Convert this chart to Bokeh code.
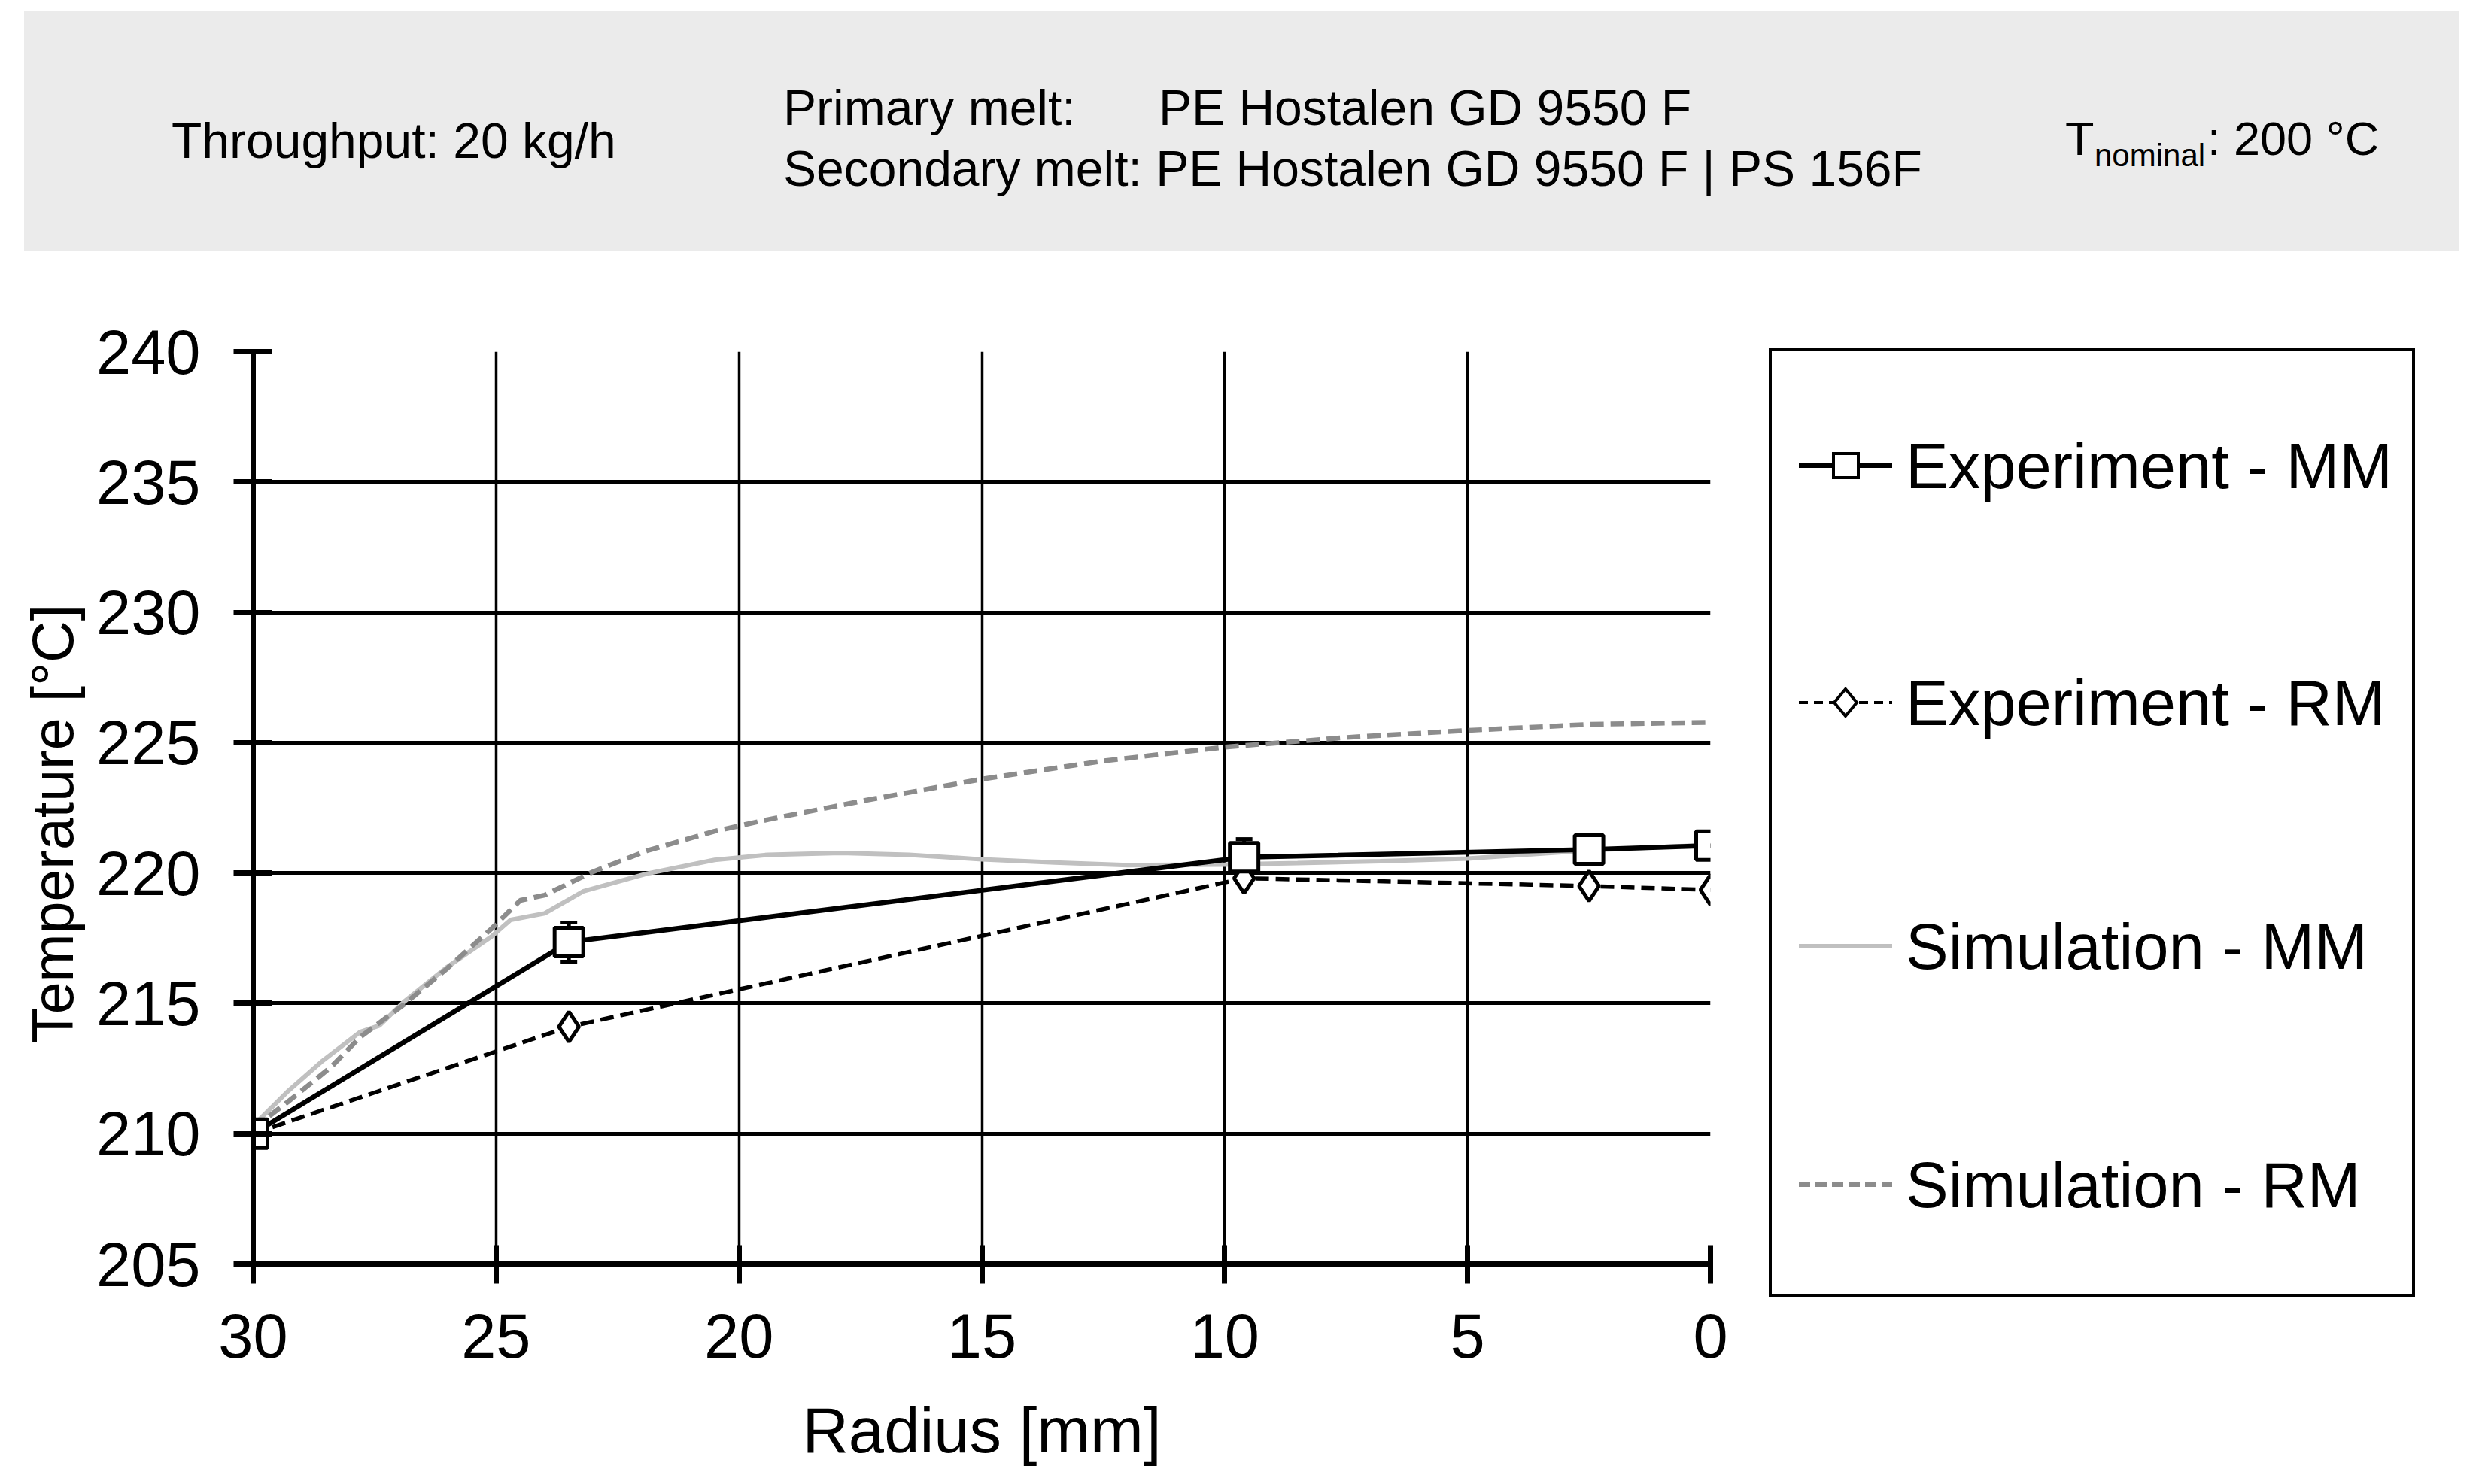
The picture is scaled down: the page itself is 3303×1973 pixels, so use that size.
from bokeh.plotting import figure
from bokeh.models import (Range1d, FixedTicker, Whisker, ColumnDataSource,
                          TeeHead, Div)
from bokeh.layouts import column, row
from bokeh.embed import file_html
from bokeh.resources import INLINE

FONT = "Liberation Sans"

# ---------------- data ----------------
x_ticks = [30, 25, 20, 15, 10, 5, 0]
y_ticks = [205, 210, 215, 220, 225, 230, 235, 240]

exp_mm_r = [30.0, 23.5, 9.6, 2.5, 0.0]
exp_mm_t = [210.0, 217.35, 220.6, 220.9, 221.05]
exp_mm_err = [0.0, 0.75, 0.7, 0.0, 0.0]

exp_rm_r = [30.0, 23.5, 9.6, 2.5, 0.0]
exp_rm_t = [210.0, 214.1, 219.8, 219.5, 219.35]

sim_mm_r = [30.0, 29.3, 28.6, 27.8, 27.4, 26.9, 26.0, 25.1, 24.7, 24.0, 23.2,
            21.9, 20.5, 19.4, 17.9, 16.5, 15.0, 13.5, 12.0, 10.0, 8.5, 6.8,
            5.0, 2.5, 0.0]
sim_mm_t = [210.3, 211.6, 212.75, 213.9, 214.15, 215.05, 216.4, 217.55, 218.2,
            218.45, 219.3, 219.97, 220.5, 220.7, 220.77, 220.7, 220.52, 220.4,
            220.3, 220.32, 220.38, 220.45, 220.55, 220.87, 221.08]

sim_rm_r = [30.0, 29.3, 28.4, 27.8, 26.9, 26.0, 25.1, 24.5, 24.0, 23.0, 21.9,
            20.5, 19.4, 17.5, 15.0, 12.5, 10.0, 7.5, 5.0, 2.5, 0.0]
sim_rm_t = [210.2, 211.2, 212.55, 213.7, 214.95, 216.35, 217.85, 218.95,
            219.15, 220.05, 220.85, 221.6, 222.05, 222.75, 223.6, 224.3,
            224.83, 225.2, 225.47, 225.7, 225.78]

series_labels = ["Experiment - MM", "Experiment - RM", "Simulation - MM",
                 "Simulation - RM"]

header_left = "Throughput: 20 kg/h"
header_mid1a = "Primary melt:"
header_mid1b = "PE Hostalen GD 9550 F"
header_mid2 = "Secondary melt: PE Hostalen GD 9550 F | PS 156F"
header_t = "T"
header_sub = "nominal"
header_tval = ": 200 °C"

x_label = "Radius [mm]"
y_label = "Temperature [°C]"

# series styles
C_EXP = "black"
C_SIM_MM = "#c0c0c0"
C_SIM_RM = "#8c8c8c"

# ---------------- header (HTML text) ----------------
HW, HH = 3287, 372

def span(x, baseline, s, size=66):
    top = baseline - 0.8465 * size
    return (f'<span style="position:absolute;left:{x}px;top:{top:.1f}px;'
            f'font-size:{size}px;line-height:{size}px;white-space:nowrap;">{s}</span>')

hdr_html = (
    f'<div style="position:relative;width:{HW}px;height:{HH}px;'
    f"font-family:'{FONT}';color:black;background:white;\">"
    f'<div style="position:absolute;left:32px;top:14px;width:3236px;height:320px;'
    f'background:#ebebeb;"></div>'
    + span(228, 210, header_left)
    + span(1041, 166, header_mid1a)
    + span(1540, 166, header_mid1b)
    + span(1041, 247, header_mid2)
    + span(2745, 206, header_t, 63)
    + span(2784, 222, header_sub, 42)
    + span(2934, 206, header_tval, 63)
    + '</div>'
)
hdr = Div(text=hdr_html, width=HW, height=HH, margin=0)

# ---------------- main plot ----------------
PW, PH = 2333, 1585
p = figure(width=PW, height=PH, x_range=Range1d(30, 0), y_range=Range1d(205, 240),
           output_backend="svg", toolbar_location=None,
           min_border_left=336, min_border_right=60, min_border_top=95,
           min_border_bottom=277, margin=0)
p.outline_line_color = None
p.background_fill_color = "white"
p.border_fill_color = "white"

for ax in (p.xaxis[0], p.yaxis[0]):
    ax.axis_line_width = 7
    ax.axis_line_color = "black"
    ax.major_tick_in = 25
    ax.major_tick_out = 26
    ax.major_tick_line_width = 7
    ax.major_tick_line_color = "black"
    ax.minor_tick_line_color = None
    ax.major_label_text_font = FONT
    ax.major_label_text_font_size = "83px"
    ax.major_label_text_color = "black"
    ax.axis_label_text_font = FONT
    ax.axis_label_text_font_style = "normal"
    ax.axis_label_text_color = "black"

p.xaxis.ticker = FixedTicker(ticks=x_ticks)
p.yaxis.ticker = FixedTicker(ticks=y_ticks)
p.xaxis.axis_label = x_label
p.yaxis.axis_label = y_label + "\u00a0\u00a0"
p.xaxis.axis_label_text_font_size = "85px"
p.yaxis.axis_label_text_font_size = "77px"
p.xaxis.major_label_standoff = 40
p.yaxis.major_label_standoff = 44
p.xaxis.axis_label_standoff = 46
p.yaxis.axis_label_standoff = 12

p.xgrid.ticker = FixedTicker(ticks=x_ticks)
p.ygrid.ticker = FixedTicker(ticks=y_ticks)
p.xgrid.grid_line_color = "black"
p.xgrid.grid_line_width = 3.5
p.ygrid.grid_line_color = "black"
p.ygrid.grid_line_width = 5

# simulation curves
p.line(sim_mm_r, sim_mm_t, line_color=C_SIM_MM, line_width=6)
p.line(sim_rm_r, sim_rm_t, line_color=C_SIM_RM, line_width=6.5, line_dash="18 9")

# experiment RM
p.line(exp_rm_r, exp_rm_t, line_color=C_EXP, line_width=5.5, line_dash="18 9")
p.scatter(exp_rm_r, exp_rm_t, marker="diamond", size=40,
          fill_color="white", line_color=C_EXP, line_width=5)

# experiment MM
src = ColumnDataSource(dict(
    r=exp_mm_r, t=exp_mm_t,
    lo=[t - e for t, e in zip(exp_mm_t, exp_mm_err)],
    hi=[t + e for t, e in zip(exp_mm_t, exp_mm_err)]))
wh = Whisker(base="r", upper="hi", lower="lo", source=src,
             line_color=C_EXP, line_width=5,
             upper_head=TeeHead(size=22, line_width=5, line_color=C_EXP),
             lower_head=TeeHead(size=22, line_width=5, line_color=C_EXP))
p.add_layout(wh)
p.line("r", "t", source=src, line_color=C_EXP, line_width=6.5)
p.scatter("r", "t", source=src, marker="square", size=38,
          fill_color="white", line_color=C_EXP, line_width=5)

# ---------------- legend (HTML box to the right of the plot) ----------------
LW = 3287 - PW
entry_centres = [247, 562, 886, 1203]
glyph_svgs = [
    f'<line x1="0" y1="30" x2="124" y2="30" stroke="{C_EXP}" stroke-width="6"/>'
    f'<rect x="46" y="14" width="33" height="32" fill="white" stroke="{C_EXP}" stroke-width="4"/>',
    f'<line x1="0" y1="30" x2="124" y2="30" stroke="{C_EXP}" stroke-width="4" stroke-dasharray="12 8"/>'
    f'<polygon points="62,12 77,30 62,48 47,30" fill="white" stroke="{C_EXP}" stroke-width="4"/>',
    f'<line x1="0" y1="30" x2="124" y2="30" stroke="{C_SIM_MM}" stroke-width="6"/>',
    f'<line x1="0" y1="30" x2="124" y2="30" stroke="{C_SIM_RM}" stroke-width="6" stroke-dasharray="15 7"/>',
]
leg_parts = [
    f'<div style="position:relative;width:{LW}px;height:{PH}px;'
    f"font-family:'{FONT}';color:black;\">",
    '<div style="position:absolute;left:18px;top:91px;width:859px;height:1262px;'
    'box-sizing:border-box;border:4px solid black;background:white;"></div>',
]
for c, lab, g in zip(entry_centres, series_labels, glyph_svgs):
    leg_parts.append(
        f'<svg width="124" height="60" style="position:absolute;left:58px;top:{c - 30}px;">{g}</svg>')
    leg_parts.append(
        f'<span style="position:absolute;left:200px;top:{c - 42}px;font-size:85px;'
        f'line-height:85px;white-space:nowrap;">{lab}</span>')
leg_parts.append('</div>')
leg = Div(text="".join(leg_parts), width=LW, height=PH, margin=0)

layout = column(hdr, row(p, leg, spacing=0), spacing=0)
open("out.html", "w").write(file_html(layout, INLINE))
